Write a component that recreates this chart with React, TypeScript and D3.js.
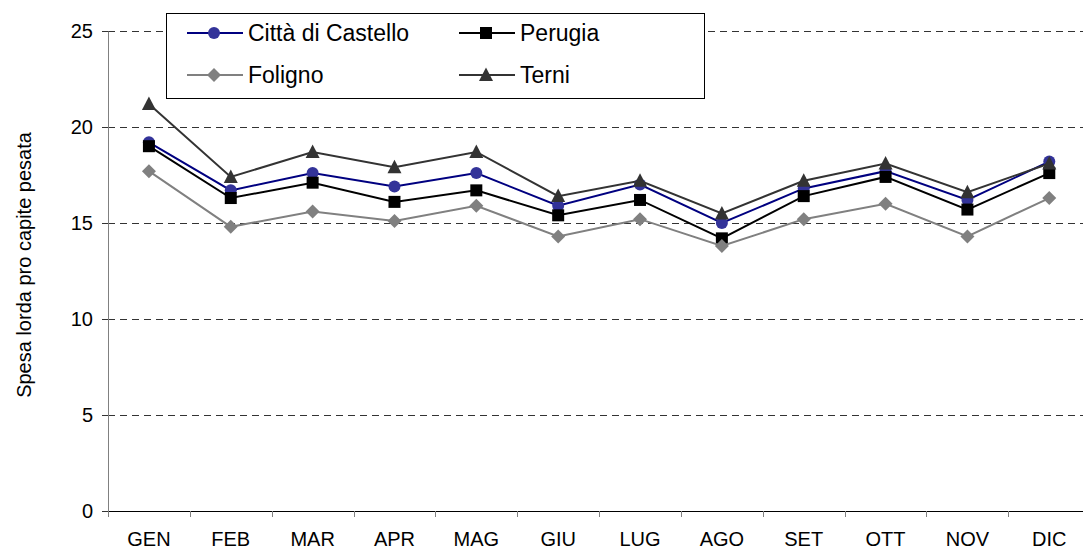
import React from "react";
import * as d3 from "d3";

const months = ["GEN", "FEB", "MAR", "APR", "MAG", "GIU", "LUG", "AGO", "SET", "OTT", "NOV", "DIC"];
const cittaDiCastello = [19.2, 16.7, 17.6, 16.9, 17.6, 15.9, 17.0, 15.0, 16.8, 17.7, 16.2, 18.2];
const perugia = [19.0, 16.3, 17.1, 16.1, 16.7, 15.4, 16.2, 14.2, 16.4, 17.4, 15.7, 17.6];
const foligno = [17.7, 14.8, 15.6, 15.1, 15.9, 14.3, 15.2, 13.8, 15.2, 16.0, 14.3, 16.3];
const terni = [21.2, 17.4, 18.7, 17.9, 18.7, 16.4, 17.2, 15.5, 17.2, 18.1, 16.6, 18.1];
const yTicks = [0, 5, 10, 15, 20, 25];
const yTitle = "Spesa lorda pro capite pesata";

const seriesList = [
  { name: "Città di Castello", values: cittaDiCastello, line: "#000080", fill: "#333399", marker: "circle" },
  { name: "Perugia", values: perugia, line: "#000000", fill: "#000000", marker: "square" },
  { name: "Foligno", values: foligno, line: "#808080", fill: "#808080", marker: "diamond" },
  { name: "Terni", values: terni, line: "#333333", fill: "#333333", marker: "triangle" },
];

const W = 1083;
const H = 553;
const FONT = "'Liberation Sans', Arial, sans-serif";

function Marker({ kind, x, y, fill }: { kind: string; x: number; y: number; fill: string }) {
  if (kind === "circle") return <circle cx={x} cy={y} r={6} fill={fill} />;
  if (kind === "square") return <rect x={x - 6} y={y - 6} width={12} height={12} fill={fill} />;
  if (kind === "diamond")
    return <path d={`M${x},${y - 7}L${x + 7},${y}L${x},${y + 7}L${x - 7},${y}Z`} fill={fill} />;
  return <path d={`M${x},${y - 7.5}L${x + 7},${y + 6}L${x - 7},${y + 6}Z`} fill={fill} />;
}

export default function App() {
  const x = d3.scaleBand<string>().domain(months).range([108, 108 + 12 * 81.85]).padding(0);
  const y = d3.scaleLinear().domain([0, 25]).range([511, 31]);
  const bw = x.bandwidth();
  const cx = (m: string) => (x(m) as number) + bw / 2;
  const line = d3
    .line<number>()
    .x((_, i) => cx(months[i]))
    .y((v) => y(v));

  const legendItems = [
    { s: seriesList[0], lx: 187, ly: 33 },
    { s: seriesList[1], lx: 459, ly: 33 },
    { s: seriesList[2], lx: 187, ly: 75 },
    { s: seriesList[3], lx: 459, ly: 75 },
  ];

  return (
    <svg
      width={W}
      height={H}
      style={{ position: "absolute", left: 0, top: 0, background: "#fff" }}
      fontFamily={FONT}
    >
      <rect x={0} y={0} width={W} height={H} fill="#fff" />
      {yTicks
        .filter((t) => t > 0)
        .map((t) => (
          <line
            key={"g" + t}
            x1={108}
            x2={W}
            y1={Math.round(y(t)) + 0.5}
            y2={Math.round(y(t)) + 0.5}
            stroke="#333"
            strokeWidth={1}
            strokeDasharray="7,5"
          />
        ))}
      <line x1={108.5} x2={108.5} y1={Math.round(y(25)) + 0.5} y2={511.5} stroke="#808080" strokeWidth={1} />
      {yTicks.map((t) => (
        <g key={"yt" + t}>
          <line x1={102} x2={108} y1={Math.round(y(t)) + 0.5} y2={Math.round(y(t)) + 0.5} stroke="#333" />
          <text x={93} y={y(t)} dy="0.36em" textAnchor="end" fontSize={20} fill="#000">
            {t}
          </text>
        </g>
      ))}
      <line x1={108} x2={W} y1={511.5} y2={511.5} stroke="#000" strokeWidth={1} />
      {months.map((m) => (
        <line
          key={"xt" + m}
          x1={Math.round(x(m) as number) + 0.5}
          x2={Math.round(x(m) as number) + 0.5}
          y1={511}
          y2={517}
          stroke="#808080"
        />
      ))}
      {months.map((m) => (
        <text key={"xl" + m} x={cx(m)} y={546} textAnchor="middle" fontSize={20} fill="#000">
          {m}
        </text>
      ))}
      <text transform={`translate(31,265) rotate(-90)`} textAnchor="middle" fontSize={20} fill="#000">
        {yTitle}
      </text>
      {seriesList.map((s) => (
        <g key={s.name}>
          <path d={line(s.values) || ""} fill="none" stroke={s.line} strokeWidth={2} />
          {s.values.map((v, i) => (
            <Marker key={i} kind={s.marker} x={cx(months[i])} y={y(v)} fill={s.fill} />
          ))}
        </g>
      ))}
      <rect x={166.5} y={13.5} width={538} height={85} fill="#fff" stroke="#000" strokeWidth={1} />
      {legendItems.map(({ s, lx, ly }) => (
        <g key={"lg" + s.name}>
          <line x1={lx} x2={lx + 56} y1={ly} y2={ly} stroke={s.line} strokeWidth={2} />
          <Marker kind={s.marker} x={lx + 27} y={ly} fill={s.fill} />
          <text x={lx + 61} y={ly} dy="0.36em" fontSize={23} fill="#000">
            {s.name}
          </text>
        </g>
      ))}
    </svg>
  );
}
